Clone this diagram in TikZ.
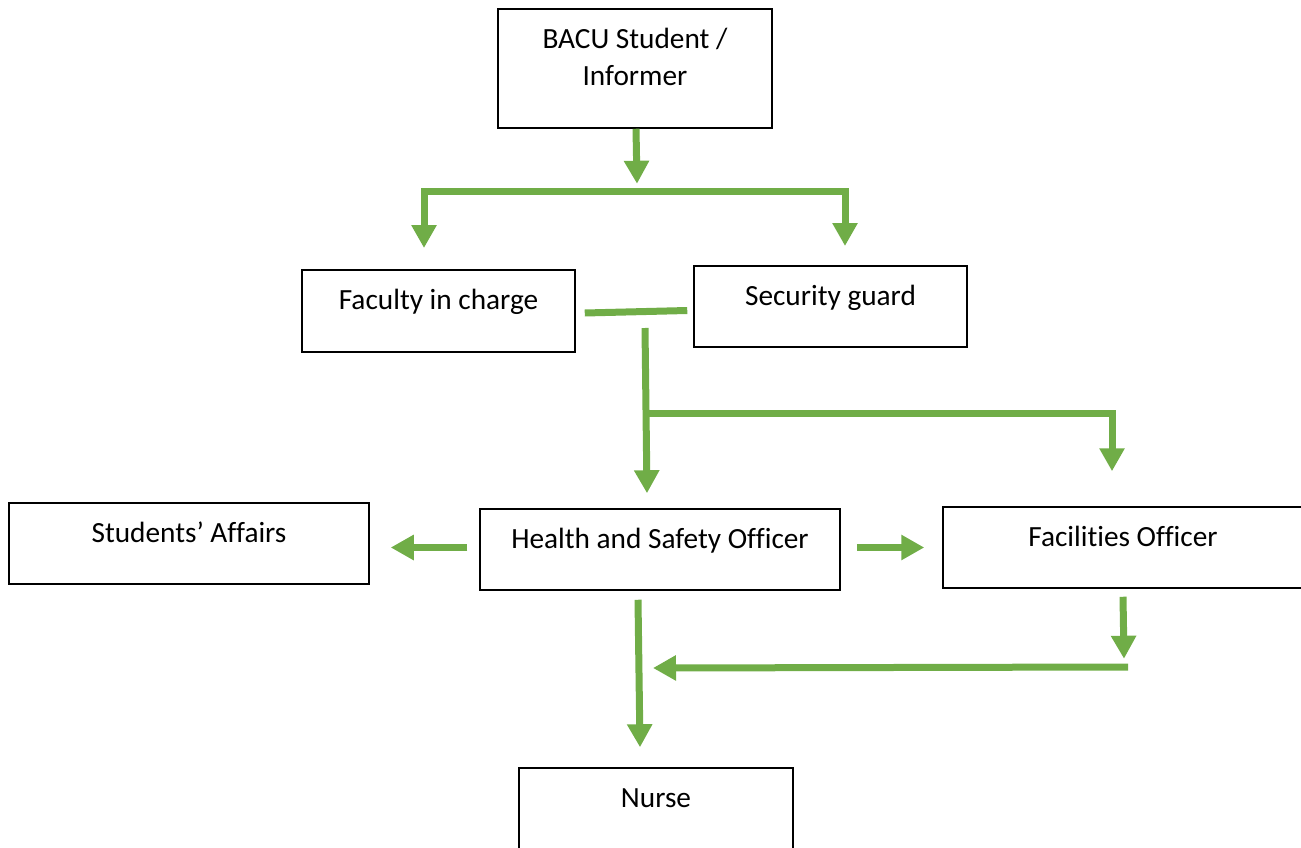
\documentclass[tikz,border=0pt]{standalone}
\usepackage{fontspec}
\setmainfont{Carlito}[Ligatures=NoCommon]
\usetikzlibrary{arrows.meta}
\definecolor{flowgreen}{HTML}{70AD47}

\begin{document}
\begin{tikzpicture}[x=1pt, y=-1pt,
    box/.style={draw, line width=1.5pt, font=\fontsize{29.3}{37}\selectfont,
      text height=20pt, text depth=23pt},
    link/.style={draw=flowgreen, line width=7pt},
    arrow/.style={link, -{Triangle[width=24pt,length=23pt]}},
    twoway/.style={link, {Triangle[width=24pt,length=23pt]}-{Triangle[width=24pt,length=23pt]}}]
    \clip (0,0) rectangle (1301,848);

    % Cajas del diagrama
    \node[box, minimum width=274pt, minimum height=119pt, align=center, text height=57pt, text depth=23pt] (informer) at (635,68.5) {BACU Student /\\ Informer};
    \node[box, minimum width=273pt, minimum height=82pt] (faculty) at (438.5,311) {Faculty in charge};
    \node[box, minimum width=273pt, minimum height=81pt] (guard) at (830.5,306.5) {Security guard};
    \node[box, minimum width=360pt, minimum height=81pt] (affairs) at (189,543.5) {Students’ Affairs};
    \node[box, minimum width=360pt, minimum height=81pt] (hso) at (660,549.5) {Health and Safety Officer};
    \node[box, minimum width=360pt, minimum height=81pt] (facilities) at (1123,547.5) {Facilities Officer};
    \node[box, minimum width=274pt, minimum height=82pt] (nurse) at (656,809) {Nurse};

    % Puntos libres de las flechas
    \coordinate (forkL) at (424,248);
    \coordinate (forkR) at (845,246);
    \coordinate (drop) at (645,328);
    \coordinate (branch) at (648,413);
    \coordinate (returnR) at (1128,667);
    \coordinate (returnL) at (653,668);

    % Del informante a la horquilla
    \draw[arrow] ([xshift=1pt]informer.south) -- ++(1,55);
    \draw[twoway] (forkL) -- ++(0,-57) -| (forkR);

    % Union entre facultad y guardia
    \draw[link] ([xshift=9pt,yshift=-2pt]faculty.east) -- ([xshift=-6pt,yshift=-4pt]guard.west);

    % Bajada hacia el oficial de seguridad
    \draw[arrow] (drop) -- ([xshift=-13pt,yshift=15pt]hso.north);
    \draw[arrow] (branch) -| ([xshift=-11pt,yshift=35pt]facilities.north);

    % Salidas laterales
    \draw[arrow] ([xshift=-12pt,yshift=2pt]hso.west) -- ([xshift=21pt,yshift=-4pt]affairs.east);
    \draw[arrow] ([xshift=16pt,yshift=2pt]hso.east) -- ([xshift=-18pt]facilities.west);

    % Hacia la enfermera
    \draw[arrow] ([yshift=-8pt]facilities.south) -- ++(1,62);
    \draw[arrow] (returnR) -- (returnL);
    \draw[arrow] ([xshift=-22pt,yshift=-9pt]hso.south) -- ([xshift=-16pt,yshift=20pt]nurse.north);
\end{tikzpicture}
\end{document}
